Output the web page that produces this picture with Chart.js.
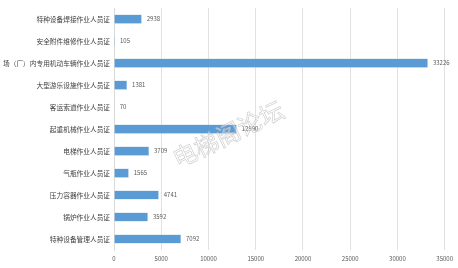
<!DOCTYPE html>
<html><head><meta charset="utf-8">
<script src="https://cdn.jsdelivr.net/npm/chart.js@4/dist/chart.umd.min.js"></script>
<style>html,body{margin:0;padding:0;background:#fff}#wrap{width:458px;height:268px}</style>
</head><body><div id="wrap"><canvas id="c"></canvas></div>
<script>
const categories = ["特种设备焊接作业人员证","安全附件维修作业人员证","场（厂）内专用机动车辆作业人员证","大型游乐设施作业人员证","客运索道作业人员证","起重机械作业人员证","电梯作业人员证","气瓶作业人员证","压力容器作业人员证","锅炉作业人员证","特种设备管理人员证"];
const values = [2938,105,33226,1381,70,12990,3709,1565,4741,3592,7092];
const xTicks = [0,5000,10000,15000,20000,25000,30000,35000];
const FONT = "'Noto Sans CJK SC','Noto Sans',sans-serif";

const valueLabels = {
  id:'valueLabels',
  afterDatasetsDraw(chart){
    const ctx=chart.ctx; const meta=chart.getDatasetMeta(0);
    ctx.save(); ctx.fillStyle='#595959'; ctx.font="6px "+FONT; ctx.textBaseline='middle'; ctx.textAlign='left';
    meta.data.forEach((b,i)=>{ ctx.fillText(String(values[i]), b.x+5, b.y); });
    ctx.restore();
  }
};
const watermark = {
  id:'watermark',
  afterDraw(chart){
    const ctx=chart.ctx; ctx.save();
    ctx.translate(228,134); ctx.rotate(-0.45);
    ctx.font="24px "+FONT; ctx.textAlign='center'; ctx.textBaseline='middle';
    ctx.strokeStyle='rgba(170,170,170,0.55)'; ctx.lineWidth=0.7;
    ctx.fillStyle='rgba(255,255,255,0.45)';
    ctx.fillText('电梯阁论坛',0,0);
    ctx.strokeText('电梯阁论坛',0,0);
    ctx.restore();
  }
};

new Chart(document.getElementById('c'),{
  type:'bar',
  data:{labels:categories,datasets:[{data:values,backgroundColor:'#5B9BD5',borderColor:'#9DC3E6',borderWidth:0.5,barPercentage:0.42,categoryPercentage:1}]},
  options:{
    indexAxis:'y',responsive:true,maintainAspectRatio:false,animation:false,
    layout:{padding:{top:8,right:11,left:0,bottom:0}},
    plugins:{legend:{display:false},tooltip:{enabled:false}},
    scales:{
      x:{min:0,max:35000,
        afterBuildTicks(s){s.ticks=xTicks.map(v=>({value:v}));},
        afterFit(s){s.height=18;},
        grid:{color:'#D9D9D9',lineWidth:0.8,drawTicks:false},
        border:{display:false},
        ticks:{color:'#595959',font:{size:6,family:FONT},padding:5,maxRotation:0,callback:(v)=>String(v)}
      },
      y:{
        afterFit(s){s.width=114;},
        grid:{display:false,drawTicks:false},
        border:{display:true,color:'#D9D9D9',width:0.8},
        ticks:{color:'#404040',font:{size:6.7,family:FONT},padding:4,autoSkip:false}
      }
    }
  },
  plugins:[valueLabels,watermark]
});
</script></body></html>
